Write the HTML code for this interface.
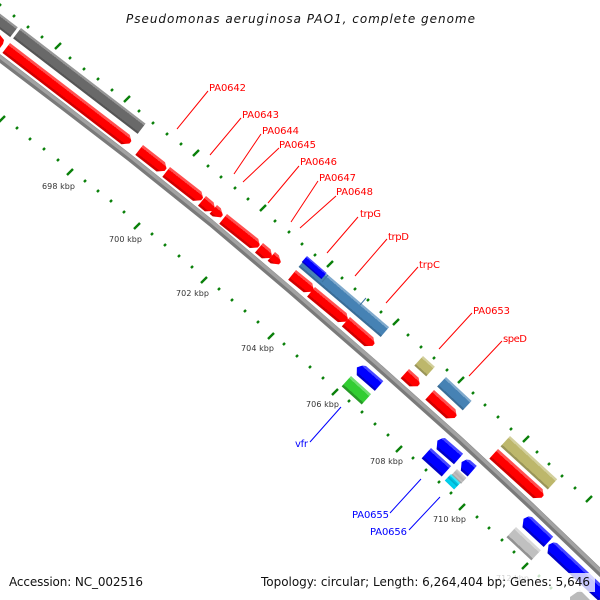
<!DOCTYPE html>
<html><head><meta charset="utf-8"><style>
html,body{margin:0;padding:0;background:#fff}
svg{display:block}
text{font-family:"DejaVu Sans",sans-serif}
.r{font-size:10px;fill:#f00}
.b{font-size:10px;fill:#00f}
.k{font-size:8px;fill:#333}
.f{font-size:12px;fill:#111}
</style></head><body>
<svg width="600" height="600" viewBox="0 0 600 600" xmlns="http://www.w3.org/2000/svg">
<defs>
<linearGradient id="red" x1="0" y1="0" x2="0" y2="1"><stop offset=".22" stop-color="#ff5050"/><stop offset=".22" stop-color="#f00"/><stop offset=".8" stop-color="#f00"/><stop offset=".8" stop-color="#d00000"/></linearGradient>
<linearGradient id="blu" x1="0" y1="0" x2="0" y2="1"><stop offset=".2" stop-color="#4848ff"/><stop offset=".2" stop-color="#00f"/><stop offset=".82" stop-color="#00f"/><stop offset=".82" stop-color="#0000c8"/></linearGradient>
<linearGradient id="ste" x1="0" y1="0" x2="0" y2="1"><stop offset=".18" stop-color="#7fa9cc"/><stop offset=".18" stop-color="#4682b4"/><stop offset=".84" stop-color="#4682b4"/><stop offset=".84" stop-color="#3a6d97"/></linearGradient>
<linearGradient id="kha" x1="0" y1="0" x2="0" y2="1"><stop offset=".18" stop-color="#d2cf9c"/><stop offset=".18" stop-color="#bdb76b"/><stop offset=".84" stop-color="#bdb76b"/><stop offset=".84" stop-color="#9a9558"/></linearGradient>
<linearGradient id="grn" x1="0" y1="0" x2="0" y2="1"><stop offset=".2" stop-color="#70dd70"/><stop offset=".2" stop-color="#32cd32"/><stop offset=".82" stop-color="#32cd32"/><stop offset=".82" stop-color="#269a26"/></linearGradient>
<linearGradient id="dgr" x1="0" y1="0" x2="0" y2="1"><stop offset=".18" stop-color="#969696"/><stop offset=".18" stop-color="#696969"/><stop offset=".84" stop-color="#696969"/><stop offset=".84" stop-color="#555"/></linearGradient>
<linearGradient id="lgr" x1="0" y1="0" x2="0" y2="1"><stop offset=".2" stop-color="#d8d8d8"/><stop offset=".2" stop-color="#c0c0c0"/><stop offset=".82" stop-color="#c0c0c0"/><stop offset=".82" stop-color="#929292"/></linearGradient>
<linearGradient id="sgr" x1="0" y1="0" x2="0" y2="1"><stop offset="0" stop-color="#d0d0d0"/><stop offset=".5" stop-color="#b0b0b0"/><stop offset=".75" stop-color="#c4c4c4"/><stop offset="1" stop-color="#8c8c8c"/></linearGradient>
<linearGradient id="cya" x1="0" y1="0" x2="0" y2="1"><stop offset=".2" stop-color="#40e4f6"/><stop offset=".2" stop-color="#00d4f0"/><stop offset=".5" stop-color="#00a8c8"/><stop offset=".6" stop-color="#00d4f0"/><stop offset="1" stop-color="#00c8e8"/></linearGradient>
</defs>

<!-- backbone -->
<polyline points="-6,54 65,108 130,158 211,223 290,290 375,364 460,440 531,506 606,578" fill="none" stroke="#7a7a7a" stroke-width="7" stroke-linejoin="round"/>
<polyline points="-5,53 66,107 131,157 212,222 291,289 376,363 461,439 532,505 607,577" fill="none" stroke="#a2a2a2" stroke-width="3.5" stroke-linejoin="round"/>

<!-- ticks -->
<path fill="none" stroke="#0a800a" stroke-width="2.4" d="M-1 6l2-2M13 17l2-2M27 28l2-2M41 38l2-2M69 59l2-2M83 70l2-2M97 80l2-2M111 91l2-2M138 112l2-2M152 124l2-2M166 135l2-2M180 145l2-2M207 167l2-2M220 178l2-2M234 189l2-2M247 200l2-2M274 222l2-2M288 233l2-2M301 245l2-2M314 256l2-2M341 279l2-2M354 290l2-2M367 301l2-2M380 313l2-2M407 336l2-2M420 348l2-2M433 359l2-2M446 371l2-2M472 394l2-2M484 406l2-2M497 418l2-2M510 430l2-2M536 453l2-2M548 465l2-2M561 477l2-2M574 489l2-2M16 129l2-2M29 140l2-2M43 150l2-2M57 161l2-2M84 182l2-2M97 192l2-2M110 202l2-2M123 213l2-2M151 235l2-2M164 246l2-2M178 257l2-2M191 268l2-2M218 290l2-2M231 301l2-2M244 312l2-2M257 323l2-2M283 345l2-2M296 357l2-2M309 368l2-2M322 379l2-2M348 402l2-2M361 413l2-2M374 425l2-2M387 436l2-2M412 459l2-2M425 471l2-2M438 483l2-2M450 494l2-2M476 518l2-2M488 529l2-2M501 541l2-2M513 553l2-2M538 577l2-2M550 589l2-2"/>
<path fill="none" stroke="#0a800a" stroke-width="2.4" d="M55 49l6-6M124 102l6-6M193 156l6-6M260 211l6-6M327 267l6-6M393 325l6-6M458 383l6-6M523 442l6-6M586 502l6-6M-1 122l6-6M67 175l6-6M134 229l6-6M201 283l6-6M268 339l6-6M332 395l6-6M396 452l6-6M459 510l6-6M522 569l6-6"/>

<!-- genes -->
<polygon fill="url(#dgr)" transform="translate(-6,9) rotate(37.5)" points="0,0 30,0 30,12.5 0,12.5"/>
<polygon fill="url(#dgr)" transform="translate(21,28) rotate(37.5)" points="0,0 157,0 157,13 0,13"/>
<polygon fill="#f00" points="0,35 4,40 3,44 0,48"/>
<polygon fill="url(#red)" transform="translate(10,43) rotate(37.5)" points="0,0 151,0 156,4 156,7 150,12.5 0,12.5"/>
<polygon fill="url(#red)" transform="translate(143,145) rotate(38)" points="0,0 28,0 33,4 33,7 27,12.5 0,12.5"/>
<polygon fill="url(#red)" transform="translate(170,167) rotate(38)" points="0,0 40,0 45,4 45,7 39,12.5 0,12.5"/>
<polygon fill="url(#red)" transform="translate(206,196) rotate(40)" points="0,0 10,0 15,4 15,7 9,12.5 0,12.5"/>
<polygon fill="url(#red)" transform="translate(217,205) rotate(40)" points="0,0 5,0 11,4 11,7 4,11.5 0,11.5"/>
<polygon fill="url(#red)" transform="translate(227,214) rotate(38.5)" points="0,0 40,0 45,4 45,7 39,12.5 0,12.5"/>
<polygon fill="url(#red)" transform="translate(263,243) rotate(40)" points="0,0 10,0 15,4 15,7 9,12.5 0,12.5"/>
<polygon fill="url(#red)" transform="translate(275,252) rotate(40)" points="0,0 5,0 11,4 11,7 4,11.5 0,11.5"/>
<polygon fill="url(#ste)" transform="translate(307,257) rotate(40.5)" points="0,0 108,0 108,13 0,13"/>
<path d="M322 282l6-7M360 305l6-7" stroke="#3d75a3" fill="none"/>
<polygon fill="url(#blu)" transform="translate(307,256) rotate(41)" points="0,0 26,0 26,8 0,8"/>
<polygon fill="url(#red)" transform="translate(296,270) rotate(39)" points="0,0 21,0 26,4 26,7 20,12.5 0,12.5"/>
<polygon fill="url(#red)" transform="translate(315,287) rotate(39.5)" points="0,0 41,0 46,4 46,7 40,12.5 0,12.5"/>
<polygon fill="url(#red)" transform="translate(350,317) rotate(41)" points="0,0 31,0 36,4 36,7 30,12.5 0,12.5"/>
<polygon fill="url(#blu)" transform="translate(366,366) rotate(41)" points="0,0 23,0 23,13 -1,13 -6,7 -3,2"/>
<polygon fill="url(#grn)" transform="translate(351,376) rotate(42)" points="0,0 27,0 27,14 0,14"/>
<polygon fill="url(#red)" transform="translate(409,369) rotate(42)" points="0,0 13,0 18,4 18,7 12,12.5 0,12.5"/>
<polygon fill="url(#kha)" transform="translate(423,356) rotate(42)" points="0,0 16,0 16,13 0,13"/>
<polygon fill="url(#ste)" transform="translate(446,377) rotate(43)" points="0,0 35,0 35,13 0,13"/>
<polygon fill="url(#red)" transform="translate(434,390) rotate(42)" points="0,0 29,0 34,4 34,7 28,13 0,13"/>
<polygon fill="url(#kha)" transform="translate(510,436) rotate(42.5)" points="0,0 64,0 64,14 0,14"/>
<polygon fill="url(#red)" transform="translate(498,449) rotate(42)" points="0,0 60,0 65,4 65,7 59,13 0,13"/>
<polygon fill="url(#blu)" transform="translate(445,438) rotate(41)" points="0,0 24,0 24,14 1,14 -4,7 -2,2"/>
<polygon fill="url(#blu)" transform="translate(431,448) rotate(42)" points="0,0 27,0 27,14 0,14"/>
<polygon fill="url(#blu)" transform="translate(470,460) rotate(41)" points="0,0 9,0 9,14 0,14 -5,7 -3,2"/>
<polygon fill="url(#sgr)" transform="translate(457,469) rotate(43)" points="0,0 13,0 13,8 0,8"/>
<polygon fill="url(#cya)" transform="translate(451,474) rotate(44)" points="0,0 13,0 13,9 0,9"/>
<polygon fill="url(#lgr)" transform="translate(516,527) rotate(43)" points="0,0 34,0 34,14 0,14"/>
<polygon fill="url(#blu)" transform="translate(532,517) rotate(43)" points="0,0 29,0 29,14 0,14 -5,7 -3,2"/>
<polygon fill="url(#blu)" transform="translate(557,543) rotate(43)" points="0,0 70,0 70,14 0,14 -5,7 -3,2"/>
<polygon fill="#bbb" points="570,597 580,590 590,600 570,600"/>

<!-- leader lines -->
<g fill="none" stroke="#f00" stroke-width="1">
<path d="M177 129L208 91M210 155L241 118M234 174L261 134M243 182L279 148M268 203L299 166M291 222L318 181M300 228L336 196M327 253L358 217M355 276L387 239M386 303L418 267M439 349L472 313M469 376L502 341"/>
</g>
<g fill="none" stroke="#00f" stroke-width="1">
<path d="M310 442L341 407M390 513L421 479M409 530L440 497"/>
</g>

<!-- labels -->
<g class="lbl">
<text class="r" x="209" y="91" textLength="37">PA0642</text>
<text class="r" x="242" y="118" textLength="37">PA0643</text>
<text class="r" x="262" y="134" textLength="37">PA0644</text>
<text class="r" x="279" y="148" textLength="37">PA0645</text>
<text class="r" x="300" y="165" textLength="37">PA0646</text>
<text class="r" x="319" y="181" textLength="37">PA0647</text>
<text class="r" x="336" y="195" textLength="37">PA0648</text>
<text class="r" x="360" y="217" textLength="21">trpG</text>
<text class="r" x="388" y="240" textLength="21">trpD</text>
<text class="r" x="419" y="268" textLength="21">trpC</text>
<text class="r" x="473" y="314" textLength="37">PA0653</text>
<text class="r" x="503" y="342" textLength="24">speD</text>
<text class="b" x="295" y="447" textLength="13">vfr</text>
<text class="b" x="352" y="518" textLength="37">PA0655</text>
<text class="b" x="370" y="535" textLength="37">PA0656</text>
<text class="k" x="42" y="189" textLength="33">698 kbp</text>
<text class="k" x="109" y="242" textLength="33">700 kbp</text>
<text class="k" x="176" y="296" textLength="33">702 kbp</text>
<text class="k" x="241" y="351" textLength="33">704 kbp</text>
<text class="k" x="306" y="407" textLength="33">706 kbp</text>
<text class="k" x="370" y="464" textLength="33">708 kbp</text>
<text class="k" x="433" y="522" textLength="33">710 kbp</text>
<text class="k" x="496" y="581" textLength="33">712 kbp</text>
</g>

<!-- title and footer -->
<text class="f" x="126" y="23" font-style="italic" textLength="349">Pseudomonas aeruginosa PAO1, complete genome</text>
<rect x="5" y="573" width="143" height="19" fill="#fff" fill-opacity=".78"/>
<rect x="257" y="573" width="338" height="19" fill="#fff" fill-opacity=".78"/>
<text class="f" x="9" y="586" textLength="134">Accession: NC_002516</text>
<text class="f" x="261" y="586" textLength="329">Topology: circular; Length: 6,264,404 bp; Genes: 5,646</text>
</svg>
</body></html>
